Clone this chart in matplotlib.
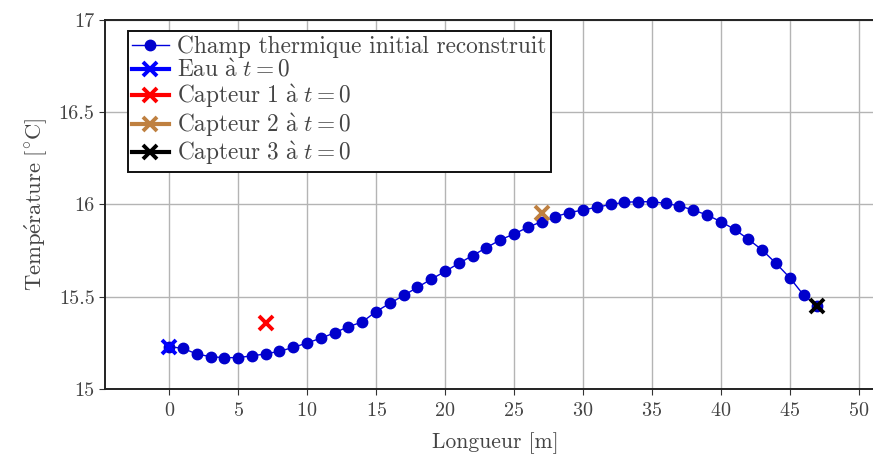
'''Champ thermique initial reconstruit le long de la conduite'''

import matplotlib
matplotlib.use("Agg")
import matplotlib.pyplot as plt

plt.rcParams['font.family'] = ['cmr10', 'DejaVu Serif']
plt.rcParams['mathtext.fontset'] = 'cm'
plt.rcParams['axes.formatter.use_mathtext'] = True

# champ reconstruit (x = 0 ... 47 m)
longueur = list(range(48))
temperature = [15.23, 15.22, 15.19, 15.175, 15.17, 15.17, 15.18, 15.19, 15.205, 15.225,
               15.25, 15.275, 15.305, 15.338, 15.363, 15.42, 15.464, 15.507, 15.551, 15.595,
               15.637, 15.681, 15.723, 15.766, 15.808, 15.84, 15.876, 15.907, 15.934, 15.956,
               15.97, 15.985, 16.0, 16.012, 16.015, 16.015, 16.006, 15.992, 15.97, 15.943,
               15.907, 15.865, 15.811, 15.753, 15.681, 15.603, 15.509, 15.45]

# mesures a t = 0
capteurs = ["Eau", "Capteur\\ 1", "Capteur\\ 2", "Capteur\\ 3"]
x_capteurs = [0, 7, 27, 47]
t_capteurs = [15.23, 15.356, 15.952, 15.45]
couleurs = ["#0000ff", "#ff0000", "#bf8040", "#000000"]

fig = plt.figure(figsize=(8.73, 4.59), dpi=100)
ax = fig.add_axes([0.1203, 0.1525, 0.895, 0.804])

ax.plot(longueur, temperature, '-', color='#0000dd', lw=1.0, marker='o', ms=7.5,
        mfc='#0000cc', mec='#0000cc', label='Champ thermique initial reconstruit', zorder=3)

for nom, xc, tc, c in zip(capteurs, x_capteurs, t_capteurs, couleurs):
    ax.plot([xc], [tc], ls='-', lw=3, color=c, marker='x', ms=10, mew=2.8,
            label=r'$\mathrm{' + nom + r'\ \grave{a}}\ t = 0$', zorder=4)

ax.set_xlim(-4.65, 52)
ax.set_ylim(15, 17)
ax.set_xticks(range(0, 51, 5))
ax.set_yticks([15, 15.5, 16, 16.5, 17])
ax.set_yticklabels(['15', '15.5', '16', '16.5', '17'])
ax.grid(True, color='#b4b4b4', lw=1.0)
ax.set_axisbelow(True)
ax.tick_params(direction='out', length=4, width=0.8, labelsize=14.5, colors='#333333',
               labelcolor='#444444')
ax.tick_params(axis='x', pad=5)
for s in ['left', 'bottom', 'top']:
    ax.spines[s].set_linewidth(1.4)
    ax.spines[s].set_color('#222222')
ax.spines['right'].set_visible(False)

ax.set_xlabel('Longueur [m]', fontsize=15.5, color='#444444', labelpad=9)
ax.set_ylabel(r'$\mathrm{Temp\acute{e}rature\ [^{\circ}C]}$', fontsize=16.3,
              color='#444444', labelpad=7)

leg = ax.legend(loc='upper left', bbox_to_anchor=(0.029, 0.970), fontsize=16.8,
                frameon=True, fancybox=False, edgecolor='#111111', framealpha=1,
                handlelength=1.55, handletextpad=0.35, labelspacing=0.04,
                borderpad=0.2, borderaxespad=0)
leg.get_frame().set_linewidth(1.4)
for t in leg.get_texts():
    t.set_color('#444444')

plt.savefig('out.png', dpi=100)
plt.close()
